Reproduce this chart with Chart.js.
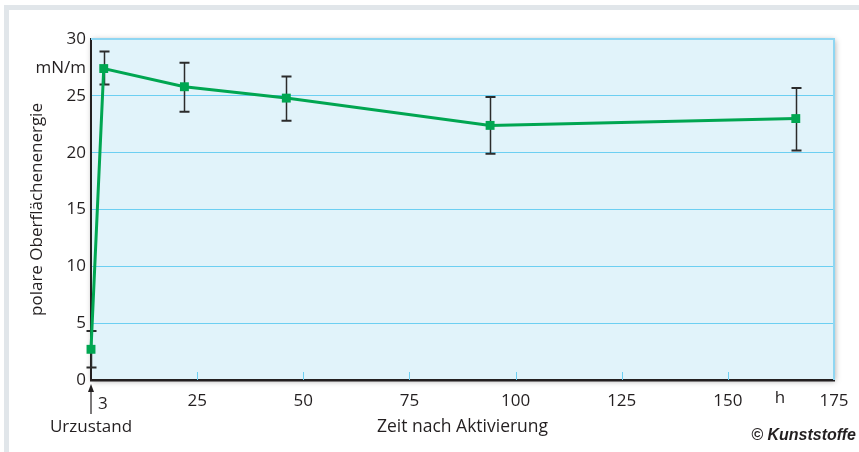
<!DOCTYPE html>
<html>
<head>
<meta charset="utf-8">
<script src="https://cdn.jsdelivr.net/npm/chart.js@4.4.1/dist/chart.umd.min.js"></script>
<style>
  html, body { margin: 0; padding: 0; background: #fff; }
  #chart { display: block; }
</style>
</head>
<body>
<canvas id="chart" width="859" height="452"></canvas>
<script>
/* DATA */
const hours = [0, 3, 22, 46, 94, 166];
const energy = [2.7, 27.4, 25.8, 24.8, 22.4, 23.0];
const errLow = [1.1, 26.0, 23.6, 22.8, 19.9, 20.2];
const errHigh = [4.3, 28.9, 27.9, 26.7, 24.9, 25.7];
const yTicks = [0, 5, 10, 15, 20, 25, 30];
const xTicks = [25, 50, 75, 100, 125, 150, 175];

const INK = "#231f20";
const GREEN = "#00a651";
const GRID = "#6ccff2";
const FONT = "'Open Sans', sans-serif";

/* BACKGROUND, FRAME, ERROR BARS, EXTRA LABELS */
const decor = {
  id: "decor",
  beforeDraw(chart) {
    const { ctx, chartArea: a } = chart;
    ctx.save();
    ctx.fillStyle = "#fff";
    ctx.fillRect(0, 0, chart.width, chart.height);
    ctx.fillStyle = "#e1e6ea";
    ctx.fillRect(4, 5, 5, chart.height - 5);
    ctx.fillRect(4, 5, chart.width - 4, 5);
    ctx.shadowColor = "rgba(0,0,0,0.35)";
    ctx.shadowBlur = 6;
    ctx.shadowOffsetX = 1;
    ctx.shadowOffsetY = 1;
    ctx.fillStyle = "#e1f3fa";
    ctx.fillRect(a.left, a.top, a.right - a.left, a.bottom - a.top);
    ctx.restore();
  },
  beforeDatasetsDraw(chart) {
    const { ctx, chartArea: a } = chart;
    const x = chart.scales.x;
    const y = chart.scales.y;
    ctx.save();
    // light blue top and right border
    ctx.strokeStyle = "#8fd6f2";
    ctx.lineWidth = 2;
    ctx.beginPath();
    ctx.moveTo(a.left, a.top);
    ctx.lineTo(a.right, a.top);
    ctx.lineTo(a.right, a.bottom);
    ctx.stroke();
    // small tick marks inside the plot
    ctx.strokeStyle = GRID;
    ctx.lineWidth = 1;
    xTicks.slice(0, -1).forEach((t) => {
      const px = Math.round(x.getPixelForValue(t)) + 0.5;
      ctx.beginPath();
      ctx.moveTo(px, a.bottom - 8);
      ctx.lineTo(px, a.bottom);
      ctx.stroke();
    });
    // error bars
    ctx.strokeStyle = "#2b2b2b";
    hours.forEach((h, i) => {
      const px = Math.round(x.getPixelForValue(h)) + 0.5;
      const lo = y.getPixelForValue(errLow[i]);
      const hi = y.getPixelForValue(errHigh[i]);
      ctx.lineWidth = 1.5;
      ctx.beginPath();
      ctx.moveTo(px, lo);
      ctx.lineTo(px, hi);
      ctx.stroke();
      ctx.lineWidth = 2;
      ctx.beginPath();
      ctx.moveTo(px - 5, lo);
      ctx.lineTo(px + 5, lo);
      ctx.moveTo(px - 5, hi);
      ctx.lineTo(px + 5, hi);
      ctx.stroke();
    });
    ctx.restore();
  },
  afterDraw(chart) {
    const { ctx, chartArea: a } = chart;
    const x = chart.scales.x;
    const y = chart.scales.y;
    const x0 = x.getPixelForValue(0);
    ctx.save();
    ctx.fillStyle = INK;
    ctx.strokeStyle = INK;
    ctx.font = "17px " + FONT;
    ctx.textBaseline = "middle";
    // unit on y axis
    ctx.textAlign = "right";
    ctx.fillText("mN/m", a.left - 5, y.getPixelForValue(27.4));
    // unit on x axis
    ctx.textAlign = "center";
    ctx.fillText("h", x.getPixelForValue(162.3), 398);
    // arrow to Urzustand
    ctx.lineWidth = 1.2;
    ctx.beginPath();
    ctx.moveTo(x0, 414);
    ctx.lineTo(x0, 388);
    ctx.stroke();
    ctx.beginPath();
    ctx.moveTo(x0, 384);
    ctx.lineTo(x0 - 3, 392);
    ctx.lineTo(x0 + 3, 392);
    ctx.closePath();
    ctx.fill();
    ctx.fillText("3", x.getPixelForValue(hours[1]) - 1, 404);
    ctx.fillText("Urzustand", x0, 427);
    // copyright
    ctx.textAlign = "right";
    ctx.font = "italic bold 16px 'Liberation Sans', Arial, sans-serif";
    ctx.fillText("\u00a9 Kunststoffe", 856, 436);
    ctx.restore();
  },
};

new Chart(document.getElementById("chart"), {
  type: "line",
  data: {
    datasets: [
      {
        data: hours.map((h, i) => ({ x: h, y: energy[i] })),
        borderColor: GREEN,
        backgroundColor: GREEN,
        borderWidth: 3,
        pointStyle: "rect",
        pointRadius: 6.3,
        pointBorderWidth: 0,
        tension: 0,
        clip: false,
      },
    ],
  },
  options: {
    responsive: false,
    animation: false,
    layout: { padding: { left: 0, right: 25, top: 39, bottom: 0 } },
    plugins: { legend: { display: false }, tooltip: { enabled: false } },
    scales: {
      x: {
        type: "linear",
        min: 0,
        max: 175,
        afterFit: (s) => { s.height = 72; },
        afterBuildTicks: (s) => { s.ticks = [0, ...xTicks].map((v) => ({ value: v })); },
        ticks: {
          color: INK,
          font: { family: FONT, size: 17 },
          padding: 3,
          maxRotation: 0,
          callback: (v) => (v === 0 ? "" : v),
        },
        grid: { display: false },
        border: { display: true, color: INK, width: 2.5 },
        title: {
          display: true,
          text: "Zeit nach Aktivierung",
          color: INK,
          font: { family: FONT, size: 17.5 },
          padding: { bottom: 14 },
        },
      },
      y: {
        min: 0,
        max: 30,
        afterFit: (s) => { s.width = 91; },
        afterBuildTicks: (s) => { s.ticks = yTicks.map((v) => ({ value: v })); },
        ticks: {
          color: INK,
          font: { family: FONT, size: 17 },
          padding: 5,
        },
        grid: { color: GRID, lineWidth: 1, drawTicks: false },
        border: { display: true, color: INK, width: 2 },
        title: {
          display: true,
          text: "polare Oberflächenenergie",
          color: INK,
          font: { family: FONT, size: 17 },
          padding: { top: 27 },
        },
      },
    },
  },
  plugins: [decor],
});
</script>
</body>
</html>
